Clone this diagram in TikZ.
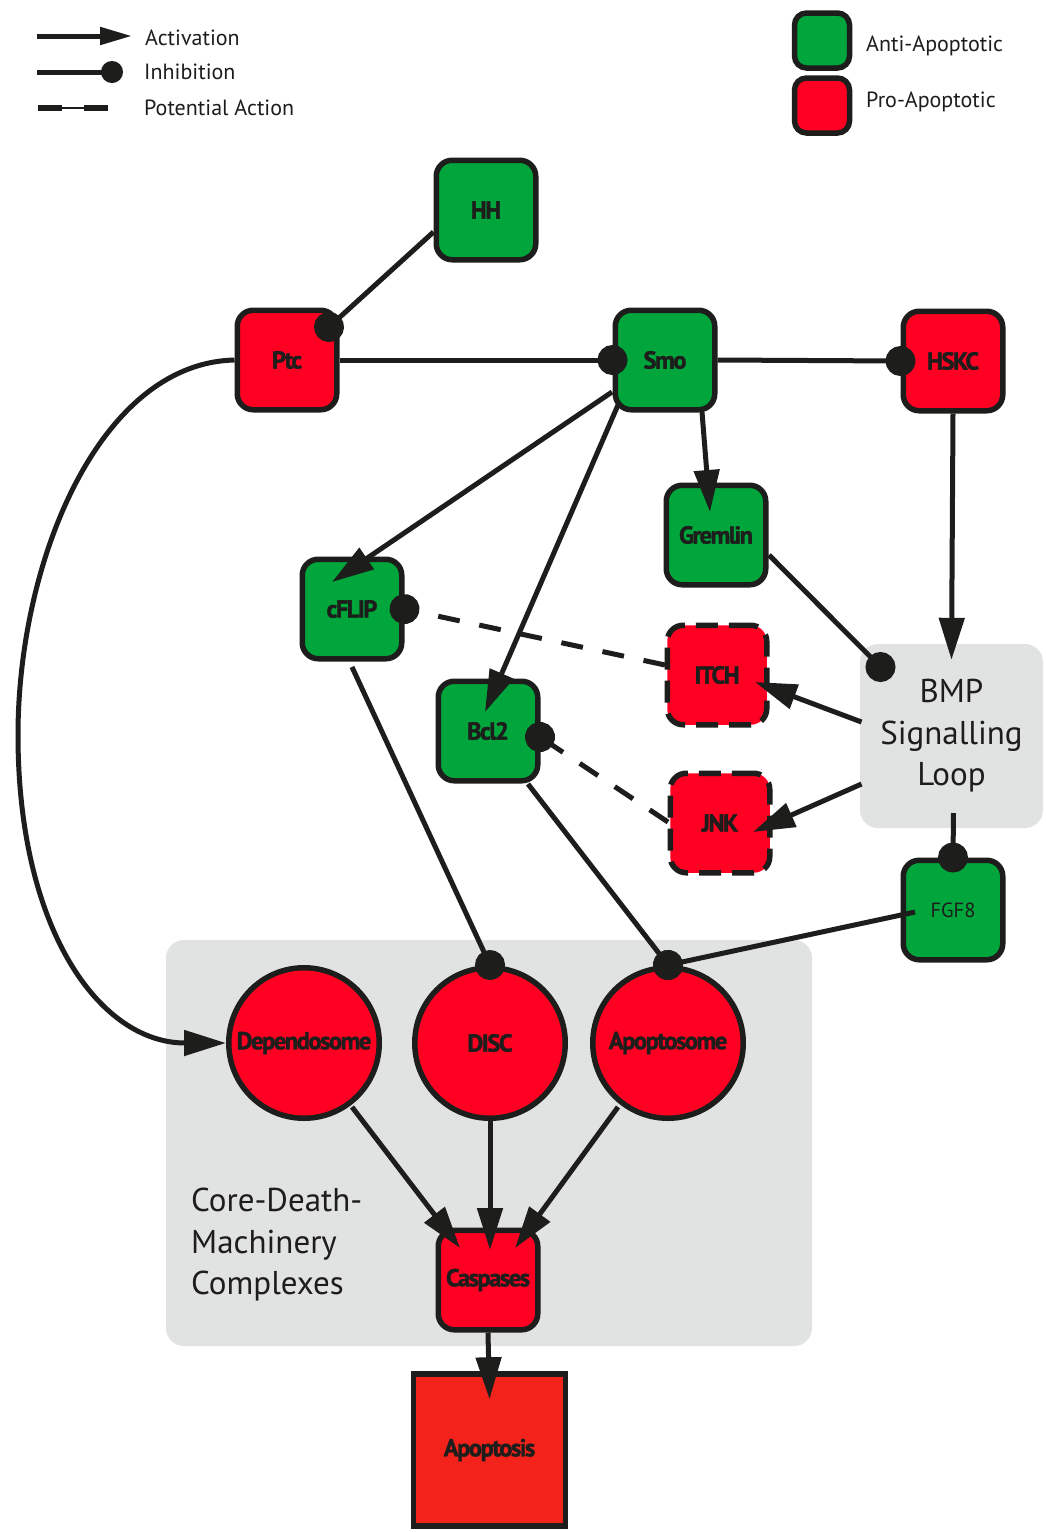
\documentclass[tikz,border=0pt]{standalone}
\usepackage{fontspec}
\setmainfont{PT Sans}
\newfontfamily\lblfont[LetterSpace=-6, BoldFeatures={FakeBold=1.5}]{PT Sans}
\usetikzlibrary{arrows.meta,calc}
\definecolor{gr}{RGB}{0,165,60}
\definecolor{rd}{RGB}{255,0,35}
\definecolor{apr}{RGB}{243,35,28}
\definecolor{gy}{RGB}{225,226,226}
\definecolor{ink}{RGB}{29,29,27}
\begin{document}
\begin{tikzpicture}[x=1pt,y=-1pt,
  lbl/.style={font=\lblfont\bfseries\fontsize{24.5}{24.5}\selectfont, text=ink},
  box/.style={lbl, draw=ink, line width=5.5pt, rounded corners=16pt, minimum size=99.5pt, inner sep=0pt},
  anti/.style={box, fill=gr},
  pro/.style={box, fill=rd},
  pot/.style={dash pattern=on 22pt off 11pt},
  cplx/.style={lbl, circle, draw=ink, line width=5.5pt, fill=rd, minimum size=150.5pt, inner sep=0pt},
  edge/.style={draw=ink, line width=5pt},
  act/.style={edge, -{Triangle[length=42pt,width=25pt]}},
  inh/.style={edge, -{Circle[length=30pt]}, shorten >=-15pt},
  potl/.style={dash pattern=on 22pt off 20pt},
  legtxt/.style={anchor=west, text=ink, inner sep=0pt, font=\fontsize{22}{22}\selectfont},
  big/.style={text=ink, font=\fontsize{33}{41.5}\selectfont}
]
\useasboundingbox (0,0) rectangle (1046,1532);

% background panels
\node[fill=gy, rounded corners=18pt, minimum width=646pt, minimum height=406pt] (core) at (489,1143) {};
\node[big, anchor=west, align=left, inner sep=0pt] (coretxt) at (191,1245) {Core-Death-\\Machinery\\Complexes};
\node[big, fill=gy, rounded corners=18pt, minimum width=183pt, minimum height=184pt, align=center, inner sep=0pt] (bmp) at (951.5,736) {BMP\\Signalling\\Loop};

% legend
\coordinate (la1) at (37,36); \coordinate (la2) at (132,36);
\draw[edge, -{Triangle[length=32pt,width=17pt]}] (la1) -- (la2);
\node[legtxt] (lat) at (145,38) {Activation};
\coordinate (li1) at (37,72); \coordinate (li2) at (112,72);
\draw[edge, -{Circle[length=22pt]}, shorten >=-11pt] (li1) -- (li2);
\node[legtxt] (lit) at (144,72) {Inhibition};
\coordinate (lp1) at (38,108); \coordinate (lp2) at (62,108); \coordinate (lp3) at (84,108); \coordinate (lp4) at (108,108);
\draw[draw=ink, line width=1.2pt] (lp1) -- (lp4);
\draw[draw=ink, line width=6pt] (lp1) -- (lp2) (lp3) -- (lp4);
\node[legtxt] (lpt) at (144,108) {Potential Action};
\node[draw=ink, line width=5.5pt, fill=gr, rounded corners=12pt, minimum size=55pt] (lga) at (822,40.5) {};
\node[draw=ink, line width=5.5pt, fill=rd, rounded corners=12pt, minimum size=55pt] (lgp) at (822,105.5) {};
\node[legtxt] (lgat) at (866,46) {Anti-Apoptotic};
\node[legtxt] (lgpt) at (866,102) {Pro-Apoptotic};

% nodes
\node[anti] (hh) at (486,210) {HH};
\node[pro] (ptc) at (287,360) {Ptc};
\node[anti] (smo) at (665,360) {Smo};
\node[pro] (hskc) at (953,361) {HSKC};
\node[anti] (grem) at (716,535) {Gremlin};
\node[anti] (cflip) at (352,609) {cFLIP};
\node[pro, pot] (itch) at (717,675) {ITCH};
\node[anti] (bcl2) at (488,731) {Bcl2};
\node[pro, pot] (jnk) at (720,823) {JNK};
\node[anti, font=\fontsize{20.5}{20.5}\selectfont] (fgf8) at (953,910) {FGF8};
\node[cplx] (dep) at (304,1043) {Dependosome};
\node[cplx] (disc) at (490,1043) {DISC};
\node[cplx] (apo) at (668,1043) {Apoptosome};
\node[pro] (casp) at (488,1280) {Caspases};
\node[lbl, draw=ink, line width=5.5pt, fill=apr, minimum size=152pt, inner sep=0pt] (apop) at (489.5,1450) {Apoptosis};

% connectors
\draw[inh] ($(hh.west)+(0,22)$) -- ($(ptc)+(42,-33)$);
\draw[inh] (ptc.east) -- (smo.west);
\draw[inh] (smo.east) -- (hskc.west);
\draw[act] ($(smo)+(37,52)$) -- ($(grem)+(-6,-23)$);
\draw[act] ($(smo)+(-53,32)$) -- ($(cflip)+(-20,-27)$);
\draw[act] ($(smo)+(-47,45)$) -- ($(bcl2)+(-3,-19)$);
\draw[inh] ($(grem)+(53,20)$) -- ($(bmp)+(-71,-69)$);
\draw[act] (hskc.south) -- ($(bmp.north)+(0,16)$);
\draw[inh, potl] ($(itch)+(-52,-10)$) -- (cflip.east);
\draw[act] ($(bmp)+(-90,-14)$) -- ($(itch)+(38,7)$);
\draw[act] ($(bmp)+(-90,48)$) -- ($(jnk)+(33,9)$);
\draw[inh, potl] ($(jnk)+(-52,-1)$) -- ($(bcl2)+(52,6)$);
\draw[inh] ($(bmp)+(2,77)$) -- (fgf8.north);
\draw[inh] ($(fgf8)+(-38,2)$) -- (apo.north);
\draw[inh] ($(cflip)+(0,58)$) -- (disc.north);
\draw[inh] ($(bcl2)+(40,53)$) -- (apo.north);
\draw[act] (ptc.west) .. controls (100,363) and (18,560) .. (18,735) .. controls (18,930) and (100,1043) .. (dep.west);
\draw[act] ($(dep)+(48,64)$) -- ($(casp)+(-28,-32)$);
\draw[act] (disc.south) -- ($(casp)+(2,-30)$);
\draw[act] ($(apo)+(-50,64)$) -- ($(casp)+(27,-32)$);
\draw[act] (casp.south) -- ($(apop.north)+(0,28)$);
\end{tikzpicture}
\end{document}
